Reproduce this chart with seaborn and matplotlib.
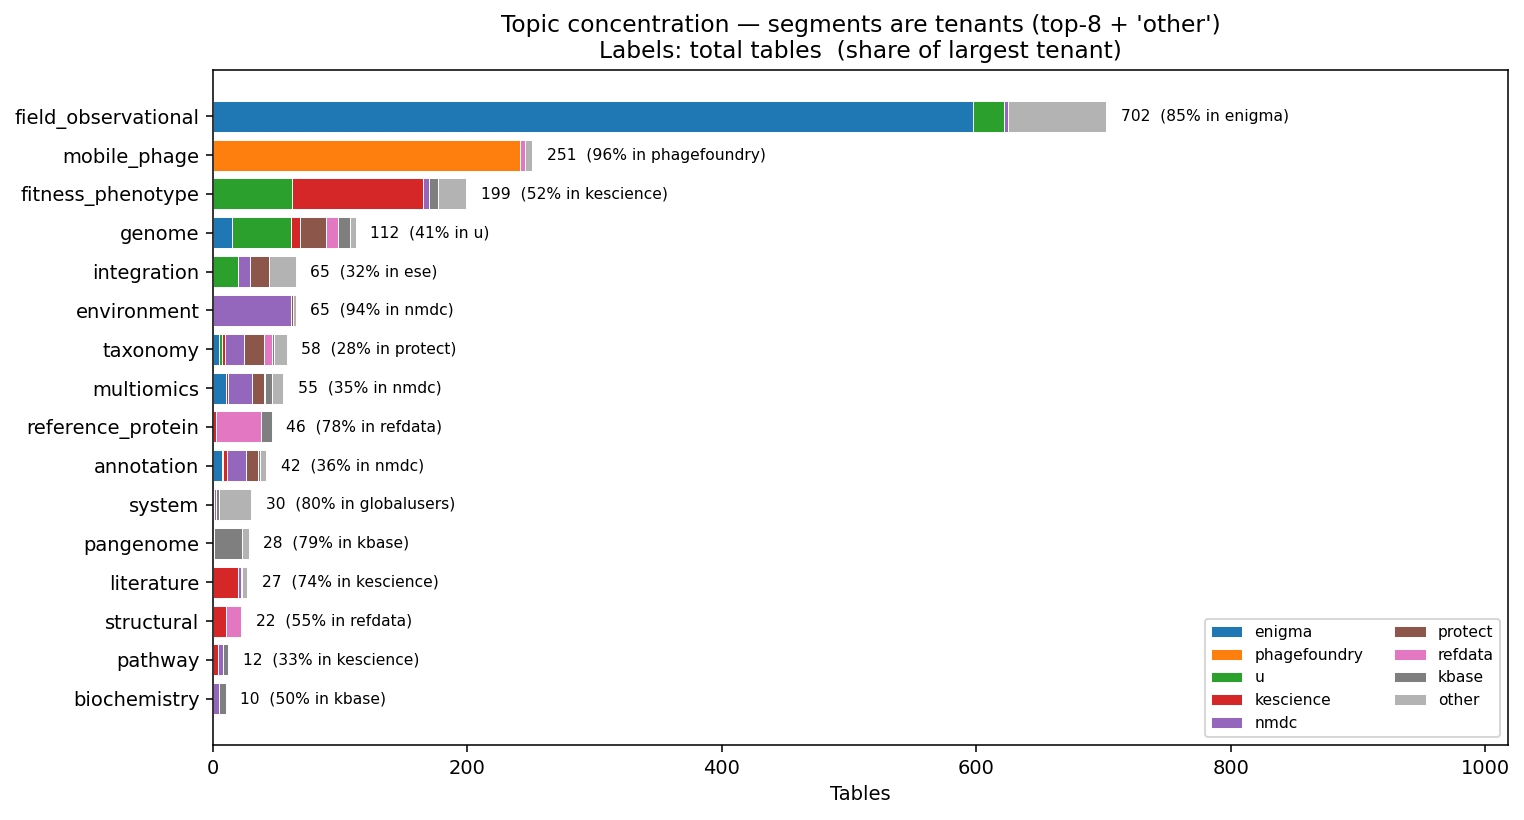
import numpy as np
import pandas as pd
import matplotlib
matplotlib.use("Agg")
import matplotlib.pyplot as plt
import seaborn as sns

topics = ["field_observational", "mobile_phage", "fitness_phenotype", "genome",
          "integration", "environment", "taxonomy", "multiomics",
          "reference_protein", "annotation", "system", "pangenome",
          "literature", "structural", "pathway", "biochemistry"]
tenants = ["enigma", "phagefoundry", "u", "kescience", "nmdc",
           "protect", "refdata", "kbase", "other"]

# tables per tenant, one entry per topic (same order as topics)
enigma       = [597, 0, 0, 15, 0, 0, 5, 10, 0, 7, 0, 0, 0, 0, 0, 0]
phagefoundry = [0, 241, 0, 0, 0, 0, 0, 0, 0, 0, 0, 0, 0, 0, 0, 0]
u            = [25, 0, 62, 46, 20, 0, 2, 0, 0, 1, 1, 0, 0, 0, 0, 0]
kescience    = [0, 0, 103, 7, 0, 0, 2, 2, 2, 3, 0, 0, 20, 10, 4, 0]
nmdc         = [3, 0, 5, 0, 9, 61, 15, 19, 0, 15, 1, 1, 2, 0, 4, 5]
protect      = [0, 0, 0, 21, 15, 2, 16, 9, 0, 9, 0, 0, 0, 0, 0, 0]
refdata      = [0, 4, 0, 9, 0, 0, 6, 1, 36, 0, 0, 0, 0, 12, 0, 0]
kbase        = [0, 0, 7, 10, 0, 0, 2, 5, 8, 2, 3, 22, 1, 0, 4, 5]
other        = [77, 6, 22, 4, 21, 2, 10, 9, 0, 5, 25, 5, 4, 0, 0, 0]

# largest single tenant per topic (may sit inside 'other')
largest_name  = ["enigma", "phagefoundry", "kescience", "u", "ese", "nmdc",
                 "protect", "nmdc", "refdata", "nmdc", "globalusers", "kbase",
                 "kescience", "refdata", "kescience", "kbase"]
largest_count = [597, 241, 103, 46, 21, 61, 16, 19, 36, 15, 24, 22, 20, 12, 4, 5]

counts = pd.DataFrame({"enigma": enigma, "phagefoundry": phagefoundry, "u": u,
                       "kescience": kescience, "nmdc": nmdc, "protect": protect,
                       "refdata": refdata, "kbase": kbase, "other": other},
                      index=topics)
cum = counts.cumsum(axis=1)
totals = counts.sum(axis=1)

colors = list(sns.color_palette("tab10")[:8]) + ["#b3b3b3"]

fig, ax = plt.subplots(figsize=(1524 / 140, 820 / 140), dpi=140)

# stacked look: draw cumulative bars back to front
for t, c in reversed(list(zip(tenants, colors))):
    sns.barplot(x=cum[t].values, y=topics, color=c, saturation=1, orient="h",
                width=0.8, edgecolor="white", linewidth=0.5, label=t, ax=ax)

for i, topic in enumerate(topics):
    tot = totals[topic]
    pct = 100 * largest_count[i] / tot
    ax.annotate(f"{tot}  ({pct:.0f}% in {largest_name[i]})", xy=(tot, i),
                xytext=(7.5, 0), textcoords="offset points", va="center", fontsize=8)

ax.set_xlim(0, totals.max() * 1.45)
ax.set_ylim(len(topics) - 1 + 1.19, -1.19)
ax.set_xlabel("Tables")
ax.set_ylabel("")
ax.set_title("Topic concentration \u2014 segments are tenants (top-8 + 'other')\n"
             "Labels: total tables  (share of largest tenant)")

handles, labels = ax.get_legend_handles_labels()
order = [labels.index(t) for t in tenants]
ax.legend([handles[k] for k in order], tenants, ncol=2, loc="lower right", fontsize=8)

plt.subplots_adjust(left=0.1398, right=0.9895, top=0.9146, bottom=0.0915)
plt.savefig("out.png", dpi=140)
